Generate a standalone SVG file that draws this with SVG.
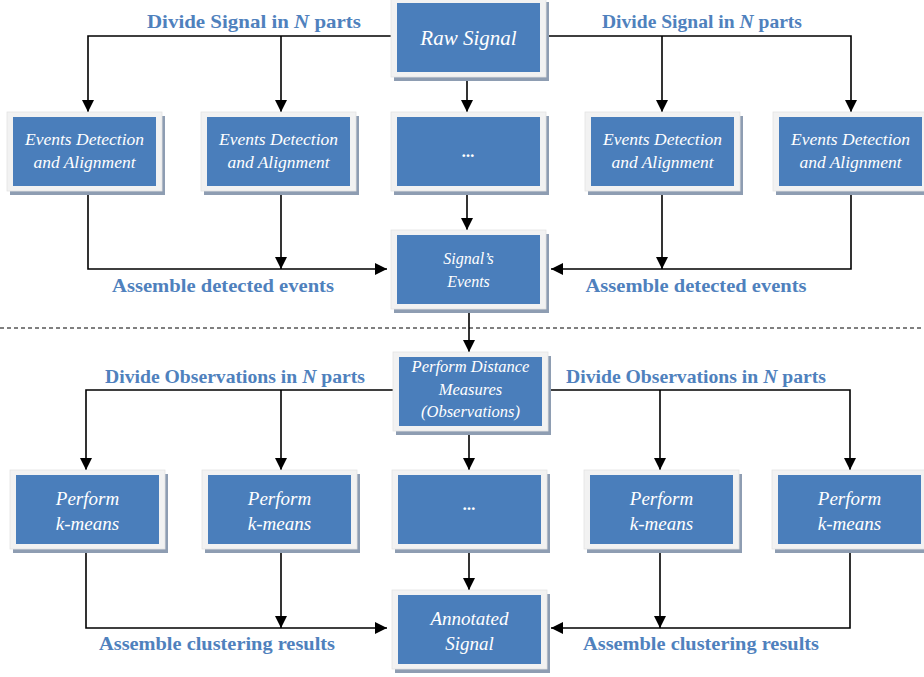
<svg xmlns="http://www.w3.org/2000/svg" width="924" height="677" viewBox="0 0 924 677">
<defs>
<marker id="ah" markerUnits="userSpaceOnUse" markerWidth="12" markerHeight="12" viewBox="0 0 12 12" refX="12" refY="6" orient="auto">
<path d="M0,0 L12,6 L0,12 Z" fill="#000"/>
</marker>
<g id="box">
<rect x="3" y="4" width="155" height="79" fill="#8e9db2"/>
<rect x="0" y="0" width="155" height="79" fill="#f2f2f2" stroke="#e3e3e3" stroke-width="0.8"/>
<rect x="6" y="5" width="143" height="69" fill="#4a7ebb"/>
</g>
</defs>
<style>
.c{fill:none;stroke:#000;stroke-width:1.6}
.a{marker-end:url(#ah)}
.lbl{font-family:"Liberation Serif",serif;font-weight:bold;font-size:19px;fill:#4f81bd;text-anchor:middle}
.t{font-family:"Liberation Serif",serif;font-style:italic;fill:#fff;text-anchor:middle}
</style>

<g id="connectors">
<path class="c a" d="M391,36 H88 V112"/>
<path class="c a" d="M281,36 V112"/>
<path class="c a" d="M546,36 H851 V112"/>
<path class="c a" d="M662,36 V112"/>
<path class="c a" d="M467,77 V112"/>
<path class="c a" d="M88,191 V269 H387"/>
<path class="c a" d="M281,191 V269"/>
<path class="c a" d="M851,191 V269 H551"/>
<path class="c a" d="M662,191 V269"/>
<path class="c a" d="M467,191 V230"/>
<line x1="0" y1="328" x2="924" y2="328" stroke="#000" stroke-width="1" stroke-dasharray="4,3"/>
<path class="c a" d="M469,310 V352"/>
<path class="c a" d="M393,390 H86 V470"/>
<path class="c a" d="M281,390 V470"/>
<path class="c a" d="M548,390 H850 V470"/>
<path class="c a" d="M660,390 V470"/>
<path class="c a" d="M469,432 V470"/>
<path class="c a" d="M86,550 V628 H387"/>
<path class="c a" d="M281,550 V628"/>
<path class="c a" d="M850,550 V628 H551"/>
<path class="c a" d="M660,550 V628"/>
<path class="c a" d="M469,550 V590"/>
</g>

<g id="labels">
<text class="lbl" x="254" y="28" textLength="214" lengthAdjust="spacingAndGlyphs">Divide Signal in <tspan font-style="italic">N</tspan> parts</text>
<text class="lbl" x="702" y="28" textLength="200" lengthAdjust="spacingAndGlyphs">Divide Signal in <tspan font-style="italic">N</tspan> parts</text>
<text class="lbl" x="223" y="292" textLength="222" lengthAdjust="spacingAndGlyphs">Assemble detected events</text>
<text class="lbl" x="696" y="292" textLength="221" lengthAdjust="spacingAndGlyphs">Assemble detected events</text>
<text class="lbl" x="235" y="383" textLength="260" lengthAdjust="spacingAndGlyphs">Divide Observations in <tspan font-style="italic">N</tspan> parts</text>
<text class="lbl" x="696" y="383" textLength="260" lengthAdjust="spacingAndGlyphs">Divide Observations in <tspan font-style="italic">N</tspan> parts</text>
<text class="lbl" x="217" y="650" textLength="236" lengthAdjust="spacingAndGlyphs">Assemble clustering results</text>
<text class="lbl" x="701" y="650" textLength="236" lengthAdjust="spacingAndGlyphs">Assemble clustering results</text>
</g>

<g id="raw" transform="translate(391,-2)">
<use href="#box"/>
<text class="t" x="77.5" y="47" font-size="21">Raw Signal</text>
</g>

<g id="ed1" transform="translate(7,112)">
<use href="#box"/>
<text class="t" x="77.5" y="33" font-size="17.5">Events Detection</text>
<text class="t" x="77.5" y="56" font-size="17.5">and Alignment</text>
</g>
<g id="ed2" transform="translate(201,112)">
<use href="#box"/>
<text class="t" x="77.5" y="33" font-size="17.5">Events Detection</text>
<text class="t" x="77.5" y="56" font-size="17.5">and Alignment</text>
</g>
<g id="dots1" transform="translate(391,112)">
<use href="#box"/>
<text class="t" x="77.5" y="45" font-size="17" font-weight="bold">...</text>
</g>
<g id="ed3" transform="translate(585,112)">
<use href="#box"/>
<text class="t" x="77.5" y="33" font-size="17.5">Events Detection</text>
<text class="t" x="77.5" y="56" font-size="17.5">and Alignment</text>
</g>
<g id="ed4" transform="translate(773,112)">
<use href="#box"/>
<text class="t" x="77.5" y="33" font-size="17.5">Events Detection</text>
<text class="t" x="77.5" y="56" font-size="17.5">and Alignment</text>
</g>

<g id="events" transform="translate(391,230)">
<use href="#box"/>
<text class="t" x="77.5" y="34" font-size="16">Signal’s</text>
<text class="t" x="77.5" y="57" font-size="16">Events</text>
</g>

<g id="distance" transform="translate(393,352)">
<use href="#box"/>
<text class="t" x="77.5" y="20" font-size="16.5">Perform Distance</text>
<text class="t" x="77.5" y="43" font-size="16.5">Measures</text>
<text class="t" x="77.5" y="65" font-size="16.5">(Observations)</text>
</g>

<g id="km1" transform="translate(10,470)">
<use href="#box"/>
<text class="t" x="77.5" y="35" font-size="19">Perform</text>
<text class="t" x="77.5" y="60" font-size="19">k-means</text>
</g>
<g id="km2" transform="translate(202,470)">
<use href="#box"/>
<text class="t" x="77.5" y="35" font-size="19">Perform</text>
<text class="t" x="77.5" y="60" font-size="19">k-means</text>
</g>
<g id="dots2" transform="translate(392,470)">
<use href="#box"/>
<text class="t" x="77.5" y="40" font-size="17" font-weight="bold">...</text>
</g>
<g id="km3" transform="translate(584,470)">
<use href="#box"/>
<text class="t" x="77.5" y="35" font-size="19">Perform</text>
<text class="t" x="77.5" y="60" font-size="19">k-means</text>
</g>
<g id="km4" transform="translate(772,470)">
<use href="#box"/>
<text class="t" x="77.5" y="35" font-size="19">Perform</text>
<text class="t" x="77.5" y="60" font-size="19">k-means</text>
</g>

<g id="annotated" transform="translate(392,590)">
<use href="#box"/>
<text class="t" x="77.5" y="35" font-size="19">Annotated</text>
<text class="t" x="77.5" y="60" font-size="19">Signal</text>
</g>
</svg>
